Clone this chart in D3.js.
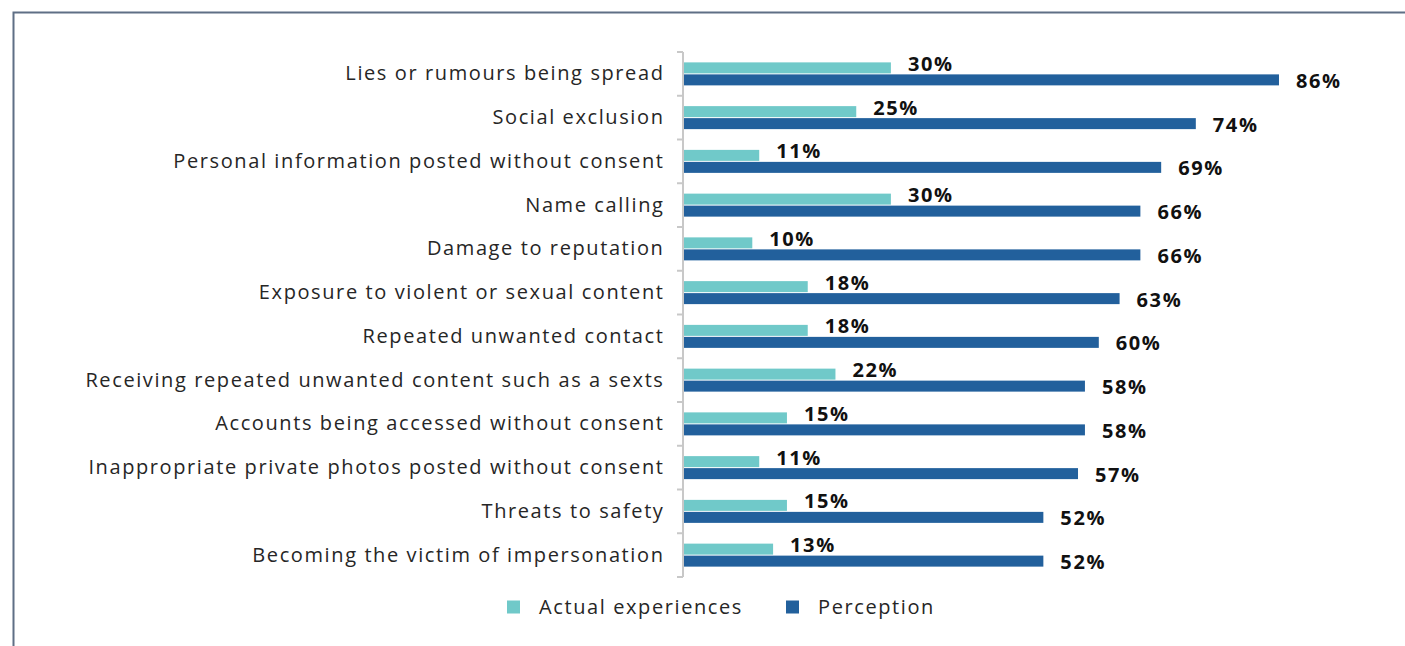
<!DOCTYPE html>
<html>
<head>
<meta charset="utf-8">
<script src="https://cdn.jsdelivr.net/npm/d3@7"></script>
<style>
  body { margin: 0; background: #fff; }
  svg { display: block; }
</style>
</head>
<body>
<script>
var categories = [
  "Lies or rumours being spread",
  "Social exclusion",
  "Personal information posted without consent",
  "Name calling",
  "Damage to reputation",
  "Exposure to violent or sexual content",
  "Repeated unwanted contact",
  "Receiving repeated unwanted content such as a sexts",
  "Accounts being accessed without consent",
  "Inappropriate private photos posted without consent",
  "Threats to safety",
  "Becoming the victim of impersonation"
];
var actual = [30, 25, 11, 30, 10, 18, 18, 22, 15, 11, 15, 13];
var perception = [86, 74, 69, 66, 66, 63, 60, 58, 58, 57, 52, 52];
var seriesNames = ["Actual experiences", "Perception"];
var seriesColors = ["#70c9c9", "#22609c"];

var W = 1405, H = 646;
var font = "'Open Sans', 'DejaVu Sans', sans-serif";

var svg = d3.select("body").append("svg")
    .attr("width", W).attr("height", H);

// frame
svg.append("path")
    .attr("d", "M13.5,646 V12.5 H1405")
    .attr("fill", "none")
    .attr("stroke", "#5f6f85")
    .attr("stroke-width", 2);

var x = d3.scaleLinear().domain([0, 100]).range([683, 683 + 693]);
var y = d3.scaleBand().domain(categories).range([52, 577]);

var rows = svg.selectAll("g.row").data(categories)
    .enter().append("g").attr("class", "row");

var barH = 11;

// actual bars
rows.append("rect")
    .attr("x", x(0))
    .attr("y", function(d) { return y(d) + y.bandwidth() / 2 - barH - 0.5; })
    .attr("width", function(d, i) { return x(actual[i]) - x(0); })
    .attr("height", barH)
    .attr("fill", seriesColors[0]);

// perception bars
rows.append("rect")
    .attr("x", x(0))
    .attr("y", function(d) { return y(d) + y.bandwidth() / 2 + 0.5; })
    .attr("width", function(d, i) { return x(perception[i]) - x(0); })
    .attr("height", barH)
    .attr("fill", seriesColors[1]);

// value labels
rows.append("text")
    .attr("x", function(d, i) { return x(actual[i]) + 17; })
    .attr("y", function(d) { return y(d) + y.bandwidth() / 2 - 10; })
    .attr("dy", "0.35em")
    .attr("font-family", font).attr("font-weight", "bold")
    .attr("font-size", 20).attr("letter-spacing", 1.6)
    .attr("fill", "#111")
    .text(function(d, i) { return actual[i] + "%"; });

rows.append("text")
    .attr("x", function(d, i) { return x(perception[i]) + 17; })
    .attr("y", function(d) { return y(d) + y.bandwidth() / 2 + 7; })
    .attr("dy", "0.35em")
    .attr("font-family", font).attr("font-weight", "bold")
    .attr("font-size", 20).attr("letter-spacing", 1.6)
    .attr("fill", "#111")
    .text(function(d, i) { return perception[i] + "%"; });

// axis
var axis = svg.append("g")
    .attr("transform", "translate(" + x(0) + ",0)")
    .call(d3.axisLeft(y).tickSize(0).tickPadding(18.5));
axis.select(".domain").remove();
axis.selectAll("text")
    .attr("font-family", font).attr("font-size", 20)
    .attr("letter-spacing", 1.6)
    .attr("fill", "#262626");

svg.append("line")
    .attr("x1", x(0)).attr("x2", x(0))
    .attr("y1", 52).attr("y2", 577)
    .attr("stroke", "#c8c8c8").attr("stroke-width", 2);
var ticks = y.domain().map(function(d) { return y(d); }).concat([577]);
svg.selectAll("line.tk").data(ticks).enter().append("line")
    .attr("class", "tk")
    .attr("x1", x(0) - 6).attr("x2", x(0))
    .attr("y1", function(d) { return d; }).attr("y2", function(d) { return d; })
    .attr("stroke", "#c8c8c8").attr("stroke-width", 2);

// legend
var legendX = [507, 786];
var leg = svg.selectAll("g.leg").data(seriesNames).enter().append("g")
    .attr("class", "leg")
    .attr("transform", function(d, i) { return "translate(" + legendX[i] + ",607)"; });
leg.append("rect")
    .attr("x", 0).attr("y", -6.5).attr("width", 13).attr("height", 13)
    .attr("fill", function(d, i) { return seriesColors[i]; });
leg.append("text")
    .attr("x", 32).attr("y", 0).attr("dy", "0.35em")
    .attr("font-family", font).attr("font-size", 20)
    .attr("letter-spacing", 1.6)
    .attr("fill", "#262626")
    .text(function(d) { return d; });
</script>
</body>
</html>
